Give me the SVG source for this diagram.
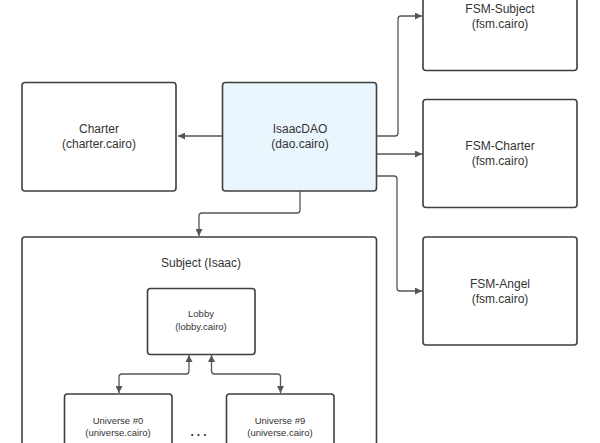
<svg xmlns="http://www.w3.org/2000/svg" width="600" height="443" viewBox="0 0 600 443">
<defs>
<style>
.box{fill:#ffffff;stroke:#3f3f3f;stroke-width:1.6}
.dao{fill:#eaf6fd;stroke:#3f3f3f;stroke-width:1.6}
.t{font-family:"Liberation Sans",Arial,sans-serif;font-size:12px;fill:#333;text-anchor:middle}
.s{font-family:"Liberation Sans",Arial,sans-serif;font-size:9.5px;fill:#333;text-anchor:middle}
.c{fill:none;stroke:#555;stroke-width:1.3}
</style>
<marker id="ah" viewBox="0 0 10 10" refX="10" refY="5" markerWidth="7" markerHeight="7" markerUnits="userSpaceOnUse" orient="auto-start-reverse">
<path d="M0,0 L10,5 L0,10 z" fill="#555"/>
</marker>
</defs>
<rect width="600" height="443" fill="#ffffff"/>
<g id="charter">
<rect class="box" x="22" y="82.5" width="154" height="108.5" rx="3"/>
<text class="t" x="99" y="133">Charter</text>
<text class="t" x="99" y="148">(charter.cairo)</text>
</g>
<g id="isaacdao">
<rect class="dao" x="222.5" y="82.5" width="154" height="108.5" rx="3"/>
<text class="t" x="300" y="133">IsaacDAO</text>
<text class="t" x="300" y="148">(dao.cairo)</text>
</g>
<g id="fsm-subject">
<rect class="box" x="423" y="-40" width="154" height="110.5" rx="3"/>
<text class="t" x="500" y="13">FSM-Subject</text>
<text class="t" x="500" y="28">(fsm.cairo)</text>
</g>
<g id="fsm-charter">
<rect class="box" x="423" y="99.5" width="154" height="108" rx="3"/>
<text class="t" x="500" y="150">FSM-Charter</text>
<text class="t" x="500" y="165">(fsm.cairo)</text>
</g>
<g id="fsm-angel">
<rect class="box" x="423" y="237" width="154" height="108" rx="3"/>
<text class="t" x="500" y="288">FSM-Angel</text>
<text class="t" x="500" y="303">(fsm.cairo)</text>
</g>
<g id="subject">
<rect class="box" x="22" y="237" width="354.5" height="240" rx="3"/>
<text class="t" x="201" y="266.5">Subject (Isaac)</text>
</g>
<g id="lobby">
<rect class="box" x="147.5" y="288.5" width="107.5" height="66" rx="3"/>
<text class="s" x="201" y="317">Lobby</text>
<text class="s" x="201" y="330">(lobby.cairo)</text>
</g>
<g id="universe0">
<rect class="box" x="64.5" y="394" width="107.5" height="70" rx="3"/>
<text class="s" x="118" y="424">Universe #0</text>
<text class="s" x="118" y="435.5">(universe.cairo)</text>
</g>
<g id="universe9">
<rect class="box" x="226.5" y="394" width="107.5" height="70" rx="3"/>
<text class="s" x="280" y="424">Universe #9</text>
<text class="s" x="280" y="435.5">(universe.cairo)</text>
</g>
<g id="ellipsis">
<text class="t" x="200" y="436" font-weight="bold" letter-spacing="3">...</text>
</g>
<g id="connectors">
<path class="c" d="M222,136 H178" marker-end="url(#ah)"/>
<path class="c" d="M377,136 H395 Q398,136 398,133 V19 Q398,16 401,16 H422" marker-end="url(#ah)"/>
<path class="c" d="M377,154 H422" marker-end="url(#ah)"/>
<path class="c" d="M377,176 H394 Q397,176 397,179 V288 Q397,291 400,291 H422" marker-end="url(#ah)"/>
<path class="c" d="M300,191 V210 Q300,213 297,213 H202 Q199,213 199,216 V236" marker-end="url(#ah)"/>
<path class="c" d="M189,355 V371 Q189,374 186,374 H122 Q119,374 119,377 V393" marker-start="url(#ah)" marker-end="url(#ah)"/>
<path class="c" d="M211.5,355 V371 Q211.5,374 214.5,374 H277.5 Q280.5,374 280.5,377 V393" marker-start="url(#ah)" marker-end="url(#ah)"/>
</g>
</svg>
